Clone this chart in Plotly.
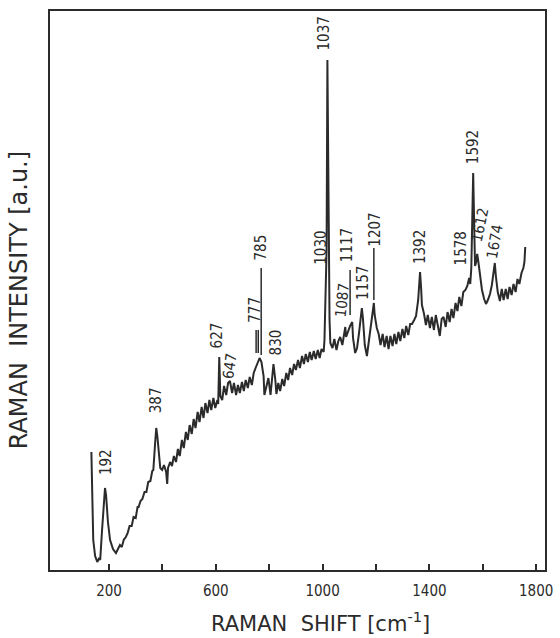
import plotly.graph_objects as go

# Raman shift (cm-1) and intensity (arbitrary units)
shift = [134, 137, 141, 148, 156, 163, 167, 174, 182, 185, 189, 196, 204, 215, 226, 233, 241, 248, 255, 263,
         270, 277, 285, 292, 300, 307, 311, 318, 325, 333, 340, 347, 355, 362, 366, 373, 377, 381, 388, 392,
         399, 406, 414, 418, 421, 429, 436, 443, 451, 458, 465, 473, 480, 488, 495, 502, 510, 517, 524, 532,
         539, 547, 554, 561, 569, 576, 583, 591, 598, 606, 609, 613, 617, 624, 631, 639, 646, 653, 661, 668,
         676, 683, 690, 698, 705, 712, 720, 727, 735, 742, 749, 757, 764, 771, 779, 782, 790, 797, 805, 812,
         816, 823, 827, 834, 841, 849, 856, 864, 871, 878, 886, 893, 900, 908, 915, 923, 930, 937, 945, 952,
         959, 967, 974, 982, 989, 996, 1004, 1007, 1011, 1015, 1018, 1022, 1026, 1029, 1037, 1044, 1052, 1059, 1066, 1074,
         1081, 1085, 1088, 1096, 1103, 1111, 1114, 1122, 1129, 1136, 1144, 1147, 1151, 1158, 1166, 1173, 1181, 1188, 1192, 1195,
         1203, 1210, 1217, 1225, 1232, 1240, 1247, 1254, 1262, 1269, 1276, 1284, 1291, 1299, 1306, 1313, 1321, 1328, 1335, 1343,
         1350, 1358, 1361, 1365, 1369, 1372, 1380, 1387, 1394, 1402, 1409, 1417, 1424, 1431, 1439, 1446, 1453, 1461, 1468, 1476,
         1483, 1490, 1498, 1505, 1512, 1520, 1527, 1535, 1542, 1549, 1553, 1557, 1560, 1564, 1568, 1571, 1575, 1579, 1582, 1586,
         1590, 1597, 1605, 1612, 1619, 1627, 1634, 1641, 1645, 1649, 1656, 1664, 1671, 1678, 1686, 1693, 1700, 1708, 1715, 1723,
         1730, 1737, 1745, 1752, 1756, 1759]
intensity = [118, 70, 30, 14, 8, 12, 10, 40, 80, 82, 75, 48, 30, 21, 17, 21, 25, 23, 30, 33,
             37, 44, 44, 53, 52, 63, 63, 69, 71, 78, 78, 88, 89, 99, 100, 128, 142, 134, 112, 102,
             100, 105, 98, 86, 102, 108, 104, 114, 108, 121, 114, 130, 122, 138, 130, 145, 136, 151, 142, 158,
             148, 163, 152, 167, 157, 170, 160, 172, 162, 170, 166, 213, 174, 170, 184, 175, 187, 189, 177, 187,
             175, 185, 177, 188, 179, 190, 182, 193, 185, 197, 202, 208, 212, 208, 194, 175, 186, 192, 175, 198,
             206, 190, 176, 187, 179, 191, 184, 197, 190, 202, 195, 206, 200, 210, 202, 214, 206, 216, 208, 218,
             210, 219, 211, 220, 212, 221, 218, 230, 270, 320, 510, 370, 250, 227, 222, 231, 220, 229, 233, 225,
             239, 243, 233, 240, 244, 248, 232, 217, 222, 236, 256, 262, 252, 225, 214, 230, 245, 261, 267, 255,
             242, 236, 225, 236, 223, 234, 221, 234, 224, 236, 226, 238, 229, 241, 232, 244, 235, 246, 246, 250,
             254, 270, 285, 298, 282, 265, 256, 245, 255, 242, 253, 240, 255, 244, 234, 251, 253, 243, 258, 248,
             261, 252, 267, 259, 273, 264, 278, 280, 284, 292, 286, 302, 335, 397, 342, 304, 308, 316, 311, 302,
             290, 280, 271, 266, 270, 276, 285, 300, 307, 294, 278, 269, 281, 270, 281, 271, 283, 275, 286, 278,
             291, 286, 297, 302, 308, 323]

# Peak labels
peak_labels = ["192", "387", "627", "647", "777", "785", "830", "1030", "1037", "1087",
               "1117", "1157", "1207", "1392", "1578", "1592", "1612", "1674"]
label_shift = [189, 377, 606, 653, 746, 771, 827, 993, 1007, 1074,
               1092, 1151, 1195, 1365, 1520, 1564, 1590, 1645]
label_int = [108, 170, 235, 204, 260, 323, 228, 322, 537, 270,
             325, 287, 340, 323, 322, 423, 345, 328]
label_angle = [-90, -90, -90, -82, -90, -90, -90, -90, -90, -84,
               -90, -90, -90, -90, -90, -90, -78, -80]

# Leader lines: (shift, intensity bottom, intensity top)
leaders = [(770, 215, 302), (751, 217, 240), (759, 217, 240), (1103, 255, 300), (1192, 270, 322)]

major_ticks = [200, 600, 1000, 1400, 1800]
major_text = ["200", "600", "1000", "1400", "1800"]
minor_ticks = [400, 800, 1200, 1600]

ink = "#2b2b2b"
fig = go.Figure()
fig.add_trace(go.Scatter(x=shift, y=intensity, mode="lines",
                         line=dict(color=ink, width=2), showlegend=False, hoverinfo="skip"))

for t, xv, yv, a in zip(peak_labels, label_shift, label_int, label_angle):
    fig.add_annotation(x=xv, y=yv, text=t, textangle=a, showarrow=False,
                       xanchor="center", yanchor="middle",
                       font=dict(family="DejaVu Sans Condensed", size=15, color=ink))

for xv, y0, y1 in leaders:
    fig.add_shape(type="line", x0=xv, x1=xv, y0=y0, y1=y1, xref="x", yref="y",
                  line=dict(color=ink, width=1.5))

fig.update_xaxes(range=[-21, 1833], tickmode="array", tickvals=major_ticks, ticktext=major_text,
                 ticks="inside", ticklen=6, tickwidth=1.5, tickcolor=ink,
                 minor=dict(tickmode="array", tickvals=minor_ticks, ticks="inside", ticklen=6,
                            tickwidth=1.5, tickcolor=ink, showgrid=False),
                 showline=True, mirror=True, linecolor=ink, linewidth=1.5,
                 showgrid=False, zeroline=False, ticklabelstandoff=6,
                 tickfont=dict(family="DejaVu Sans Condensed", size=15, color=ink))
fig.update_yaxes(range=[0, 559], showticklabels=False, ticks="",
                 showline=True, mirror=True, linecolor=ink, linewidth=1.5,
                 showgrid=False, zeroline=False)

fig.add_annotation(xref="paper", yref="paper", x=0.547, y=-0.093, showarrow=False,
                   text="RAMAN  SHIFT [cm<sup>-1</sup>]", xanchor="center", yanchor="middle",
                   font=dict(family="DejaVu Sans", size=21, color=ink))
fig.add_annotation(xref="paper", yref="paper", x=-0.062, y=0.483, showarrow=False,
                   text="RAMAN  INTENSITY [a.u.]", textangle=-90, xanchor="center", yanchor="middle",
                   font=dict(family="DejaVu Sans", size=24, color=ink))

fig.update_layout(width=560, height=638, margin=dict(l=50, r=7, t=11, b=68),
                  paper_bgcolor="white", plot_bgcolor="white")
fig.write_html("out.html", config={"displayModeBar": False},
               post_script="document.body.style.margin='0';")
